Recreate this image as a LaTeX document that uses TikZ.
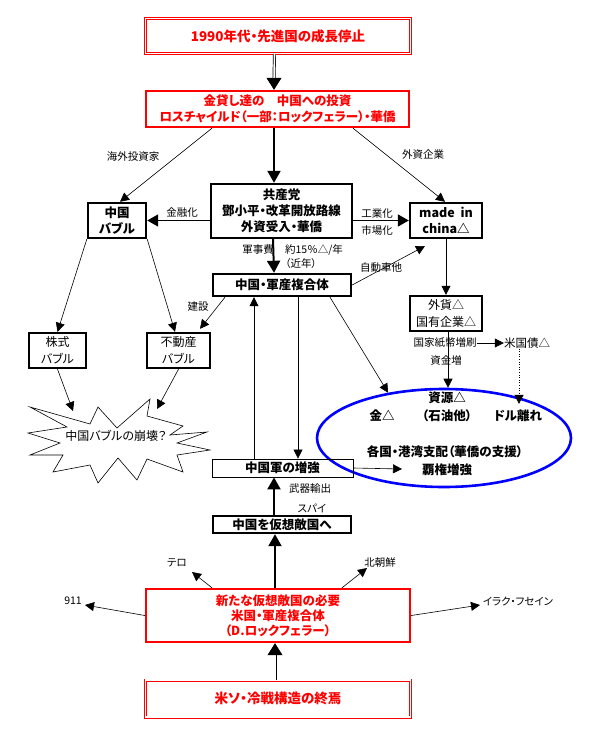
\documentclass[tikz,border=0pt]{standalone}
\usepackage{fontspec}
\setmainfont{Noto Sans CJK JP}[RawFeature=+palt]
\usetikzlibrary{arrows.meta,shapes.geometric}
\tikzset{
  bigtxt/.style={font=\bfseries\fontsize{12.5}{16}\selectfont},
  midtxt/.style={font=\fontsize{12}{17}\selectfont},
  smalltxt/.style={font=\fontsize{10.5}{13}\selectfont, inner sep=0pt},
  thickbox/.style={draw, line width=2.4pt, inner sep=0pt, align=center, bigtxt},
  plainbox/.style={draw, line width=2.4pt, inner sep=0pt, align=center, midtxt},
  thinbox/.style={draw, line width=0.8pt, inner sep=0pt, align=center, bigtxt},
  redbox/.style={draw=red, text=red, line width=2.4pt, inner sep=0pt, align=center, bigtxt},
  reddouble/.style={draw=red, text=red, double=white, double distance=1.6pt, line width=0.7pt, inner sep=0pt, align=center, font=\bfseries\fontsize{13.5}{16}\selectfont},
  thinarrow/.style={line width=0.6pt, -{Triangle[length=9pt,width=9pt]}},
  thickarrow/.style={line width=2pt, -{Triangle[length=12pt,width=13pt]}},
  dblshaft/.style={double=white, double distance=1.6pt, line width=0.7pt},
  dbltip/.style={line width=0.7pt, -{Triangle[length=12pt,width=15pt]}},
  elltxt/.style={bigtxt, inner sep=0pt},
}
\begin{document}
\begin{tikzpicture}[x=1pt,y=-1pt]
\useasboundingbox (0,0) rectangle (599,735);
\fill[white] (0,0) rectangle (599,735);

% boxes
\node[reddouble, minimum width=265pt, minimum height=35pt] (top) at (278,36) {1990年代・先進国の成長停止};
\node[redbox, minimum width=263pt, minimum height=36pt] (inv) at (277.5,109) {金貸し達の　中国への投資\\ロスチャイルド（一部：ロックフェラー）・華僑};
\node[thickbox, minimum width=141pt, minimum height=54pt] (ccp) at (281.5,211) {共産党\\鄧小平・改革開放路線\\外資受入・華僑};
\node[thickbox, minimum width=58pt, minimum height=35pt] (bubble) at (117,220.5) {中国\\バブル};
\node[thickbox, minimum width=72pt, minimum height=35pt] (mic) at (446,220.5) {made\ \ in\\china△};
\node[thickbox, minimum width=138pt, minimum height=22pt] (mil) at (282,285) {中国・軍産複合体};
\node[plainbox, minimum width=72pt, minimum height=35pt] (fx) at (446,313.5) {外貨△\\国有企業△};
\node[plainbox, minimum width=57pt, minimum height=35pt] (stock) at (57.5,350.5) {株式\\バブル};
\node[plainbox, minimum width=63pt, minimum height=35pt] (estate) at (178.5,350.5) {不動産\\バブル};
\node[draw=blue, line width=2.6pt, ellipse, minimum width=254pt, minimum height=98pt, inner sep=0pt] (ell) at (444,438) {};
\node[thinbox, minimum width=141pt, minimum height=18pt] (army) at (282.5,468) {中国軍の増強};
\node[thickbox, minimum width=138pt, minimum height=17pt] (enemy) at (282,524.5) {中国を仮想敵国へ};
\node[redbox, minimum width=264pt, minimum height=53pt, font=\bfseries\fontsize{12.5}{15}\selectfont] (newen) at (278,615.5) {新たな仮想敵国の必要\\米国・軍産複合体\\（D.ロックフェラー）};
\node[reddouble, minimum width=265pt, minimum height=37pt] (cold) at (278,698.5) {米ソ・冷戦構造の終焉};

% burst
\draw[line width=0.6pt] (30,407) -- (90,424) -- (98,407) -- (117,428) -- (150,399) -- (147,416) -- (183,426) -- (170,435) -- (207,432) -- (177,443) -- (210,450) -- (177,455) -- (183,472) -- (147,459) -- (137,480) -- (118,458) -- (98,483) -- (90,465) -- (53,472) -- (63,455) -- (30,455) -- (60,443) -- (28,433) -- (67,427) -- cycle;
\node[midtxt, inner sep=0pt] (burst) at (116,436) {中国バブルの崩壊？};

% ellipse texts
\node[elltxt] (res) at (447,398) {資源△};
\node[elltxt] (gold) at (382,416) {金△};
\node[elltxt] (oil) at (447,416) {（石油他）};
\node[elltxt] (dollar) at (518,416) {ドル離れ};
\node[elltxt] (ports) at (445,452) {各国・港湾支配（華僑の支援）};
\node[elltxt] (hege) at (447,470) {覇権増強};

% small labels
\node[smalltxt] (l1) at (133,157) {海外投資家};
\node[smalltxt] (l2) at (423,155) {外資企業};
\node[smalltxt] (l3) at (182,213) {金融化};
\node[smalltxt] (l4) at (377,214) {工業化};
\node[smalltxt] (l5) at (377,231) {市場化};
\node[smalltxt] (l6) at (258,250) {軍事費};
\node[smalltxt] (l7) at (314,250) {約15％△/年};
\node[smalltxt] (l8) at (301,264) {（近年）};
\node[smalltxt] (l9) at (381,268) {自動車他};
\node[smalltxt] (l10) at (198,307) {建設};
\node[smalltxt] (print) at (445,343) {国家紙幣増刷};
\node[smalltxt, font=\fontsize{11.5}{13}\selectfont] (bond) at (527,343) {米国債△};
\node[smalltxt] (l11) at (446,361) {資金増};
\node[smalltxt] (l12) at (310,489) {武器輸出};
\node[smalltxt] (l13) at (312,508) {スパイ};
\node[smalltxt] (terror) at (177,563) {テロ};
\node[smalltxt] (nk) at (380,563) {北朝鮮};
\node[smalltxt] (n911) at (73,601) {911};
\node[smalltxt] (iraq) at (518,601) {イラク・フセイン};

% free ends
\coordinate (carpt) at (425,246);
\coordinate (b1) at (73,411);
\coordinate (b2) at (157,409);
\coordinate (hg) at (402,469);
\coordinate (tr) at (192,572);
\coordinate (nkp) at (367,568);
\coordinate (p911) at (85,605);
\coordinate (piraq) at (480,605);

% double arrows
\draw[dblshaft] ([xshift=-3.5pt]top.south) -- ([xshift=-3.5pt,yshift=10pt]inv.north);
\draw[dbltip] ([xshift=-3.5pt,yshift=11pt]inv.north) -- ([xshift=-3.5pt]inv.north);
\draw[dblshaft] ([xshift=-3pt]cold.north) -- ([xshift=-3pt,yshift=-10pt]newen.south);
\draw[dbltip] ([xshift=-3pt,yshift=-11pt]newen.south) -- ([xshift=-3pt]newen.south);

% thick arrows
\draw[thickarrow] ([xshift=-3.5pt]inv.south) -- ([xshift=-7.5pt]ccp.north);
\draw[thickarrow] ([xshift=-8.5pt]ccp.south) -- ([xshift=-8pt]mil.north);
\draw[thickarrow] ([xshift=-8pt]enemy.north) -- ([xshift=-8.5pt]army.south);
\draw[thickarrow] ([xshift=-3pt]newen.north) -- ([xshift=-7pt]enemy.south);
\draw[line width=1.6pt, -{Triangle[length=11pt,width=12pt]}] (ccp.west |- bubble.east) -- (bubble.east);
\draw[line width=1.6pt, -{Triangle[length=11pt,width=12pt]}] (ccp.east |- mic.west) -- (mic.west);

% thin arrows
\draw[thinarrow] ([xshift=-65.5pt]inv.south) -- ([xshift=3pt]bubble.north);
\draw[thinarrow] ([xshift=75.5pt]inv.south) -- ([xshift=-1pt]mic.north);
\draw[thinarrow] (mil.east) -- (carpt);
\draw[thinarrow] (mic.south) -- (fx.north);
\draw[thinarrow] ([xshift=2pt]fx.south) -- ([xshift=2pt]fx.south |- ell.north);
\draw[thinarrow] (print.east) -- (bond.west);
\draw[line width=0.6pt, dotted, -{Triangle[length=9pt,width=9pt]}] ([xshift=-8pt]bond.south) -- ([xshift=1pt,yshift=6pt]dollar.north);
\draw[thinarrow] ([xshift=48pt]mil.south) -- (ell.141);
\draw[thinarrow] ([xshift=-57pt]mil.south) -- ([xshift=21.5pt,yshift=3pt]estate.north);
\draw[thinarrow] (bubble.south west) -- (stock.north);
\draw[thinarrow] (bubble.south east) -- ([xshift=-3.5pt]estate.north);
\draw[thinarrow] (stock.south) -- (b1);
\draw[thinarrow] (estate.south) -- (b2);
\draw[thinarrow] ([xshift=-28.5pt]army.north) -- ([xshift=-28pt]mil.south);
\draw[thinarrow] ([xshift=16pt]mil.south) -- ([xshift=15.5pt]army.north);
\draw[thinarrow] (army.east) -- (hg);
\draw[thinarrow] ([xshift=-66pt]newen.north) -- (tr);
\draw[thinarrow] ([xshift=64pt]newen.north) -- (nkp);
\draw[thinarrow] (newen.west) -- (p911);
\draw[thinarrow] (newen.east) -- (piraq);
\end{tikzpicture}
\end{document}
